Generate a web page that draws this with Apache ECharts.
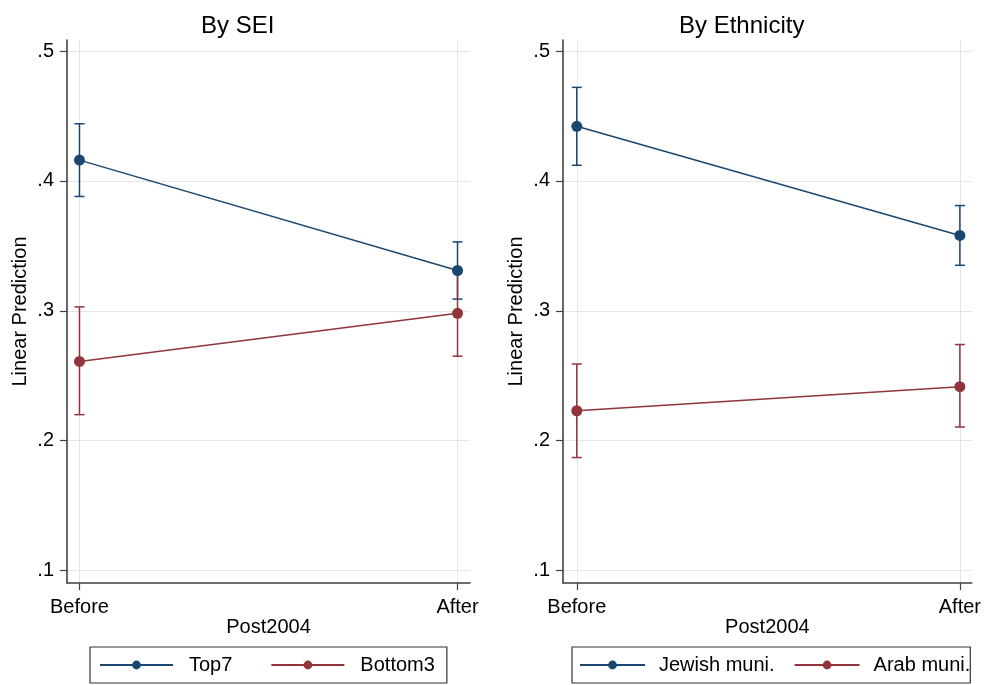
<!DOCTYPE html>
<html>
<head>
<meta charset="utf-8">
<script src="https://cdn.jsdelivr.net/npm/echarts@6/dist/echarts.min.js"></script>
<style>
  html, body { margin: 0; padding: 0; background: #ffffff; }
  #chart { width: 984px; height: 685px; }
</style>
</head>
<body>
<div id="chart"></div>
<script>
// Period categories (x positions 0 and 1) and y-axis ticks
const periods = ['Before', 'After'];
const yTicks = [0.1, 0.2, 0.3, 0.4, 0.5];
const yTickLabels = ['.1', '.2', '.3', '.4', '.5'];

// By SEI: predicted values with 95% CI
const top7Mean = [0.416, 0.331];
const top7Lo = [0.388, 0.309];
const top7Hi = [0.444, 0.353];
const bottom3Mean = [0.261, 0.298];
const bottom3Lo = [0.220, 0.265];
const bottom3Hi = [0.303, 0.331];

// By Ethnicity: predicted values with 95% CI
const jewishMean = [0.442, 0.358];
const jewishLo = [0.412, 0.335];
const jewishHi = [0.472, 0.381];
const arabMean = [0.223, 0.2415];
const arabLo = [0.187, 0.2105];
const arabHi = [0.259, 0.274];

const NAVY = '#1a476f';
const MAROON = '#90353b';
const FONT = '"Liberation Sans", Arial, sans-serif';
const TXT = '#000000';
const AXIS = '#404040';
const GRIDLINE = '#e6e6e6';

function yAxis(gridIndex) {
  return {
    type: 'value', gridIndex,
    min: 0.09038, max: 0.50847,
    name: 'Linear Prediction', nameLocation: 'middle', nameGap: 37, nameMoveOverlap: false,
    nameTextStyle: { fontFamily: FONT, fontSize: 20, color: TXT },
    axisLine: { show: true, onZero: false, lineStyle: { color: AXIS, width: 1.6 } },
    axisTick: { show: true, length: 7, customValues: yTicks, lineStyle: { color: AXIS, width: 1.2 } },
    axisLabel: {
      customValues: yTicks, margin: 13,
      fontFamily: FONT, fontSize: 20, color: TXT,
      formatter: v => yTickLabels[yTicks.findIndex(t => Math.abs(t - v) < 1e-9)] || ''
    },
    splitLine: { show: true, lineStyle: { color: GRIDLINE, width: 1 } }
  };
}

function xAxis(gridIndex, lo, hi) {
  return {
    type: 'value', gridIndex, min: lo, max: hi,
    name: 'Post2004', nameLocation: 'middle', nameGap: 34, nameMoveOverlap: false,
    nameTextStyle: { fontFamily: FONT, fontSize: 20, color: TXT },
    axisLine: { show: true, onZero: false, lineStyle: { color: AXIS, width: 1.6 } },
    axisTick: { show: true, length: 7, customValues: [0, 1], lineStyle: { color: AXIS, width: 1.2 } },
    axisLabel: {
      customValues: [0, 1], margin: 14,
      fontFamily: FONT, fontSize: 20, color: TXT,
      formatter: v => periods[Math.round(v)] || ''
    },
    splitLine: { show: true, lineStyle: { color: GRIDLINE, width: 1 } }
  };
}

function lineSeries(name, mean, color, idx) {
  return {
    type: 'line', name, xAxisIndex: idx, yAxisIndex: idx,
    data: mean.map((v, i) => [i, v]),
    symbol: 'circle', symbolSize: 11,
    lineStyle: { color, width: 1.5 },
    itemStyle: { color },
    z: 5, silent: true
  };
}

function errorBars(lo, hi, color, idx) {
  return {
    type: 'custom', xAxisIndex: idx, yAxisIndex: idx,
    data: lo.map((l, i) => [i, l, hi[i]]),
    silent: true, z: 3,
    renderItem: (params, api) => {
      const x = api.value(0);
      const a = api.coord([x, api.value(1)]);
      const b = api.coord([x, api.value(2)]);
      const w = 5;
      const st = { stroke: color, lineWidth: 1.5 };
      return {
        type: 'group',
        children: [
          { type: 'line', shape: { x1: a[0], y1: a[1], x2: b[0], y2: b[1] }, style: st },
          { type: 'line', shape: { x1: a[0] - w, y1: a[1], x2: a[0] + w, y2: a[1] }, style: st },
          { type: 'line', shape: { x1: b[0] - w, y1: b[1], x2: b[0] + w, y2: b[1] }, style: st }
        ]
      };
    }
  };
}

const legendBase = {
  orient: 'horizontal', top: 647,
  borderColor: '#333333', borderWidth: 1.2, borderRadius: 0,
  itemHeight: 11,
  selectedMode: false
};

const chart = echarts.init(document.getElementById('chart'), null, { renderer: 'canvas' });
chart.setOption({
  backgroundColor: '#ffffff',
  animation: false,
  title: [
    { text: 'By SEI', left: 196, top: 9, textStyle: { fontFamily: FONT, fontSize: 24, fontWeight: 'normal', color: TXT } },
    { text: 'By Ethnicity', left: 674, top: 9, textStyle: { fontFamily: FONT, fontSize: 24, fontWeight: 'normal', color: TXT } }
  ],
  grid: [
    { left: 67, top: 40, width: 403, height: 543 },
    { left: 563, top: 40, width: 411, height: 543 }
  ],
  xAxis: [xAxis(0, -0.033, 1.033), xAxis(1, -0.036, 1.031)],
  yAxis: [yAxis(0), yAxis(1)],
  legend: [
    Object.assign({}, legendBase, {
      left: 90, itemWidth: 73, itemGap: 38, padding: [8, 12, 8, 9],
      data: ['Top7', 'Bottom3'],
      textStyle: { fontFamily: FONT, fontSize: 20, color: TXT, padding: [0, 0, 0, 11] }
    }),
    Object.assign({}, legendBase, {
      left: 572, itemWidth: 65, itemGap: 19, padding: [8, 0, 8, 7],
      data: ['Jewish muni.', 'Arab muni.'],
      textStyle: { fontFamily: FONT, fontSize: 20, color: TXT, padding: [0, 0, 0, 9] }
    })
  ],
  series: [
    errorBars(top7Lo, top7Hi, NAVY, 0),
    errorBars(bottom3Lo, bottom3Hi, MAROON, 0),
    lineSeries('Top7', top7Mean, NAVY, 0),
    lineSeries('Bottom3', bottom3Mean, MAROON, 0),
    errorBars(jewishLo, jewishHi, NAVY, 1),
    errorBars(arabLo, arabHi, MAROON, 1),
    lineSeries('Jewish muni.', jewishMean, NAVY, 1),
    lineSeries('Arab muni.', arabMean, MAROON, 1)
  ]
});
</script>
</body>
</html>
